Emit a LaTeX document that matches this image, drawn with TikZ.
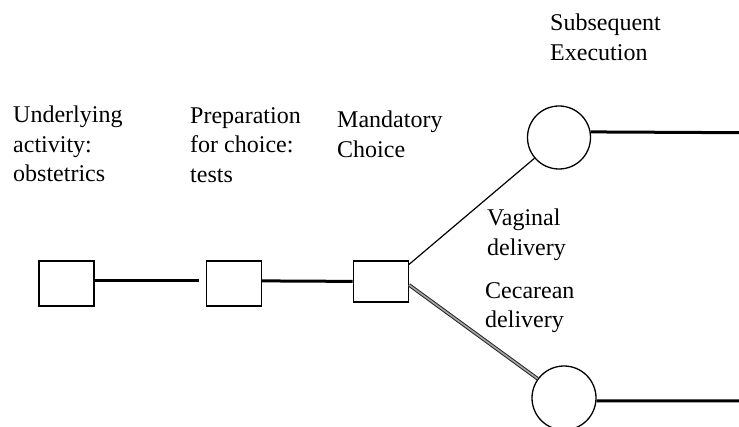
\documentclass[tikz,border=0pt]{standalone}
\usepackage{fontspec}
\setmainfont{Liberation Serif}
\usepackage{tikz}
\usetikzlibrary
  {
    positioning,              % place nodes relative to other nodes
    calc,
  }

\begin{document}
\begin{tikzpicture}
    [
      x=1pt, y=-1pt,
      stage/.style=
        {
          rectangle,
          draw=black,
          line width=1.3pt,
          minimum width=55pt,
          minimum height=45pt,
          inner sep=0pt,
        },
      outcome/.style=
        {
          circle,
          draw=black,
          line width=1.3pt,
          minimum size=63pt,
          inner sep=0pt,
        },
      caption/.style=
        {
          anchor=north west,
          inner sep=0pt,
          align=left,
          font=\fontsize{24}{29.5}\selectfont,
        },
      path/.style={line width=3pt},
      branch/.style={line width=1.2pt},
      alt branch/.style=
        {
          draw=black!85,
          double=black!35,
          line width=1pt,
          double distance=1.6pt,
        },
    ]
    \useasboundingbox (0,0) rectangle (739,427);

    % stages of the decision
    \node[stage]   (obstetrics)                                   at (66.5,283.5) {};
    \node[stage]   (tests)      [right=111pt of obstetrics]                       {};
    \node[stage]   (choice)     [minimum height=41pt]             at (380.8,281.4) {};
    \node[outcome] (vaginal)                                      at (559,137.5)  {};
    \node[outcome] (cesarean)   [minimum size=64pt]               at (564,398)    {};
    \coordinate    (vaginal end)  at (739,132.7);
    \coordinate    (cesarean end) at (739,400.8);

    % captions
    \node[caption] (activity label)  at (13,106)  {Underlying\\activity:\\obstetrics};
    \node[caption] (tests label)     at (190,107) {Preparation\\for choice:\\tests};
    \node[caption] (choice label)    at (337,111) {Mandatory\\Choice};
    \node[caption] (exec label)      at (550,14)  {Subsequent\\Execution};
    \node[caption] (vaginal label)   at (487,209) {Vaginal\\delivery};
    \node[caption] (cesarean label)  at (485,282) {Cecarean\\delivery};

    \draw[path, shorten >=7pt] ([yshift=2.6pt]obstetrics.east) -- ([yshift=2.6pt]tests.west);
    \draw[path] ([yshift=2.6pt]tests.east) -- (choice.west);
    \draw[branch] (choice.31) -- (vaginal);
    \draw[alt branch] (choice.-7) -- (cesarean);
    \draw[path] (vaginal.10) -- (vaginal end);
    \draw[path] (cesarean.-5) -- (cesarean end);
\end{tikzpicture}
\end{document}
